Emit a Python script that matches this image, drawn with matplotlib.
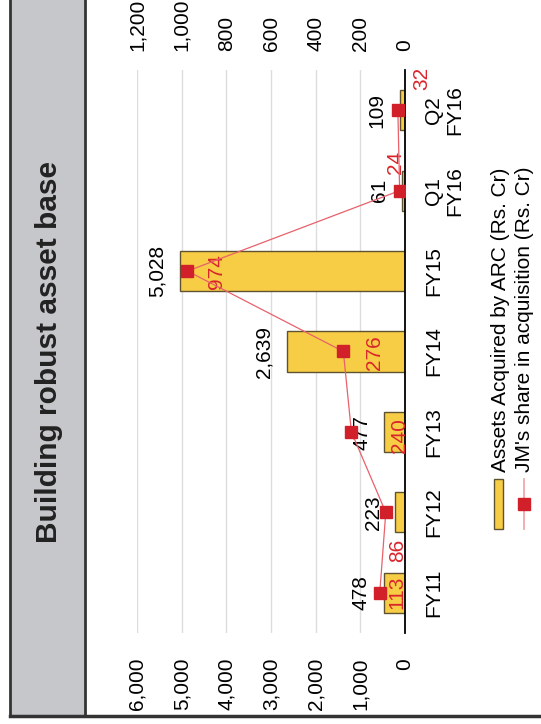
import matplotlib
matplotlib.use('Agg')
import matplotlib.pyplot as plt
import matplotlib.ticker as ticker
from matplotlib.patches import Rectangle
from matplotlib.lines import Line2D

plt.rcParams['font.family'] = ['Liberation Sans', 'DejaVu Sans']

categories = ['FY11', 'FY12', 'FY13', 'FY14', 'FY15', 'Q1\nFY16', 'Q2\nFY16']
assets = [478, 223, 477, 2639, 5028, 61, 109]
jm_share = [113, 86, 240, 276, 974, 24, 32]
asset_labels = ['478', '223', '477', '2,639', '5,028', '61', '109']
share_labels = ['113', '86', '240', '276', '974', '24', '32']

# label placement (bar-axis units, category index) -- layout only
asset_lbl_pos = [(985, 0.0), (716, 1.0), (963, 1.99), (3160, 2.99), (5550, 4.0), (560, 5.0), (627, 6.0)]
share_lbl_pos = [(180, 0.0), (157, 0.53), (112, 1.95), (694, 2.99), (4209, 4.0), (202, 5.35), (-381, 6.4)]

W, H = 541, 724
fig = plt.figure(figsize=(W / 100, H / 100), dpi=100)

def fx(x):
    return x / W

def fy(y):
    return 1 - y / H

# gray title band and frame
fig.add_artist(Rectangle((fx(10), fy(716)), fx(85) - fx(10), fy(-5) - fy(716),
                         transform=fig.transFigure, facecolor='#c6c7cb',
                         edgecolor='#333333', lw=2))
fig.add_artist(Line2D([fx(10), 1], [fy(716), fy(716)], transform=fig.transFigure,
                      color='#333333', lw=2.5))
fig.text(fx(49), fy(352), 'Building robust asset base', rotation=90, ha='center',
         va='center', fontsize=21.5, fontweight='bold', color='#222222')

ax = fig.add_axes([fx(137), fy(633), fx(405) - fx(137), fy(70) - fy(633)])
pos = list(range(len(categories)))
ax.barh(pos, assets, height=0.5, color='#f7cd45', edgecolor='#5e5230', lw=1, zorder=2)
ax.set_xlim(6000, 0)
ax.set_ylim(-0.5, 6.5)
ax.set_xticks(range(0, 6001, 1000))
ax.xaxis.set_major_formatter(ticker.StrMethodFormatter('{x:,.0f}'))
ax.grid(axis='x', color='#dddddd', lw=1, zorder=0)
ax.set_axisbelow(True)
for s in ['top', 'left', 'bottom']:
    ax.spines[s].set_visible(False)
ax.spines['right'].set_color('black')
ax.spines['right'].set_linewidth(1.3)
ax.spines['right'].set_zorder(5)
ax.tick_params(axis='x', length=0, pad=18, labelsize=15, labelrotation=90)
ax.yaxis.tick_right()
ax.set_yticks(pos)
ax.set_yticklabels(categories, rotation=90, va='center', ha='left',
                   multialignment='center', fontsize=15, linespacing=1.15)
ax.tick_params(axis='y', length=0, pad=14)

for (x, y), t in zip(asset_lbl_pos, asset_labels):
    ax.text(x, y, t, rotation=90, ha='center', va='center', fontsize=15,
            color='black', zorder=6)

ax2 = ax.twiny()
ax2.plot(jm_share, pos, color='#e8616b', lw=0.9, marker='s', markersize=9,
         markerfacecolor='#d2202a', markeredgecolor='#d2202a', zorder=4)
ax2.set_xlim(1200, 0)
ax2.set_xticks(range(0, 1201, 200))
ax2.xaxis.set_major_formatter(ticker.StrMethodFormatter('{x:,.0f}'))
ax2.tick_params(axis='x', length=0, pad=14, labelsize=15, labelrotation=90)
for s in ax2.spines.values():
    s.set_visible(False)

for (x, y), t in zip(share_lbl_pos, share_labels):
    ax.text(x, y, t, rotation=90, ha='center', va='center', fontsize=15,
            color='#d9262c', zorder=7)

# legend, drawn rotated by hand
fig.add_artist(Rectangle((fx(494), fy(529)), fx(503) - fx(494), fy(479) - fy(529),
                         transform=fig.transFigure, facecolor='#f7cd45',
                         edgecolor='#5e5230', lw=1))
fig.text(fx(500), fy(472), 'Assets Acquired by ARC (Rs. Cr)', rotation=90,
         ha='center', va='bottom', fontsize=15)
fig.add_artist(Line2D([fx(524), fx(524)], [fy(529), fy(479)], transform=fig.transFigure,
                      color='#f0a0a6', lw=1.2))
fig.add_artist(Line2D([fx(524)], [fy(504)], transform=fig.transFigure, marker='s',
                      markersize=9, color='#d2202a'))
fig.text(fx(525), fy(472), "JM's share in acquisition (Rs. Cr)", rotation=90,
         ha='center', va='bottom', fontsize=15)

plt.savefig('out.png', dpi=100)
